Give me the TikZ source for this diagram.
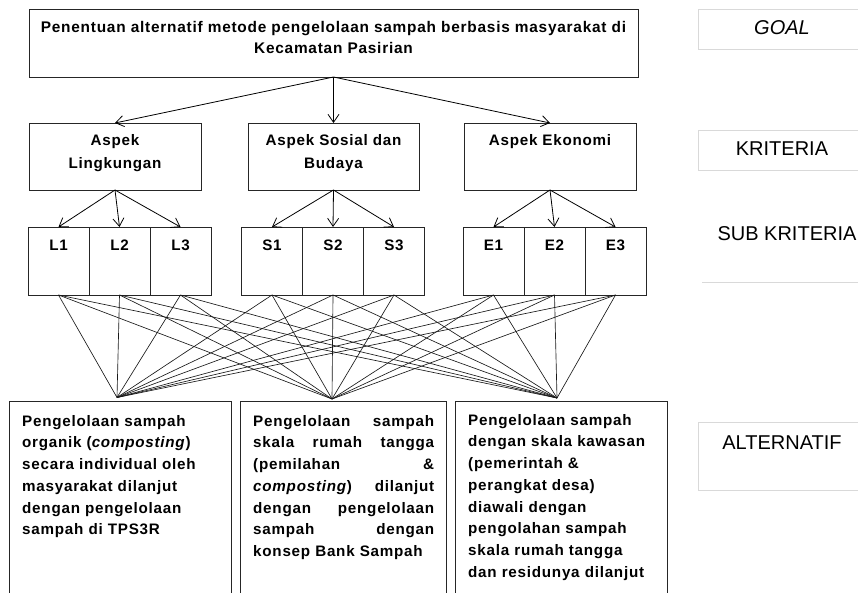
\documentclass[tikz,border=0pt]{standalone}
\usepackage{fontspec}
\setmainfont{Liberation Sans}
\newfontfamily\boxfont{Liberation Sans}[LetterSpace=5]
\usetikzlibrary{positioning,arrows.meta}

\begin{document}
\begin{tikzpicture}[x=1pt,y=-1pt,
    boxstyle/.style={draw=black!85, line width=0.9pt, inner sep=0pt, outer sep=0pt},
    substyle/.style={boxstyle, minimum width=61pt, minimum height=68pt},
    txtstyle/.style={inner sep=0pt, font=\boxfont\bfseries\fontsize{15.2}{21.7}\selectfont},
    kritstyle/.style={inner sep=0pt, align=center, font=\boxfont\bfseries\fontsize{15.2}{23}\selectfont},
    lblstyle/.style={inner sep=0pt, font=\fontsize{20}{24}\selectfont},
    lblline/.style={draw=black!15, line width=0.7pt},
    arrstyle/.style={line width=0.8pt, -{Straight Barb[length=8pt,width=11pt]}},
    linkstyle/.style={line width=0.65pt, black!90}]

  \useasboundingbox (0,0) rectangle (858,593);
  \clip (0,0) rectangle (858,593);

  % goal
  \node[boxstyle, minimum width=609pt, minimum height=68pt] (goal) at (333.5,43) {};
  \node[kritstyle, font=\boxfont\bfseries\fontsize{15.4}{21}\selectfont, below=12pt of goal.north] (goaltxt)
    {Penentuan alternatif metode pengelolaan sampah berbasis masyarakat di\\Kecamatan Pasirian};

  % kriteria
  \node[boxstyle, minimum width=172pt, minimum height=67pt] (kL) at (115,156.5) {};
  \node[boxstyle, minimum width=171pt, minimum height=67pt] (kS) at (333.5,156.5) {};
  \node[boxstyle, minimum width=172pt, minimum height=67pt] (kE) at (550,156.5) {};
  \node[kritstyle, below=11pt of kL.north] (kLtxt) {Aspek\\Lingkungan};
  \node[kritstyle, below=11pt of kS.north] (kStxt) {Aspek Sosial dan\\Budaya};
  \node[kritstyle, below=11pt of kE.north] (kEtxt) {Aspek Ekonomi};

  % sub kriteria
  \node[substyle] (L1) at (58.5,261) {};
  \node[substyle] (S1) at (272,261) {};
  \node[substyle] (E1) at (493.5,261) {};
  \foreach \k in {L,S,E}
    \foreach \i [count=\j from 2] in {1,2}
      \node[substyle, right=0pt of \k\i] (\k\j) {};
  \foreach \k in {L,S,E}
    \foreach \i in {1,2,3}
      \node[txtstyle, below=13pt of \k\i.north] (\k\i txt) {\k\i};

  \foreach \k in {L,S,E}
    \draw[arrstyle] (goal.south) -- (k\k.north);
  \foreach \k in {L,S,E}
    \foreach \i in {1,2,3}
      \draw[arrstyle] (k\k.south) -- (\k\i.north);

  % alternatif
  \node[boxstyle, anchor=north west, minimum width=222pt, minimum height=230pt] (A1) at (9,401) {};
  \node[boxstyle, anchor=north west, minimum width=206pt, minimum height=230pt] (A2) at (240,401) {};
  \node[boxstyle, anchor=north west, minimum width=212pt, minimum height=230pt] (A3) at (455,401) {};
  \coordinate (t1) at (117,397.5);
  \coordinate (t2) at (332,399);
  \coordinate (t3) at (557,398);

  \foreach \k in {L,S,E}
    \foreach \i in {1,2,3}
      \foreach \t in {t1,t2,t3}
        \draw[linkstyle] (\k\i.south) -- (\t);

  \node[txtstyle, text width=205pt, align=left, below right=14pt and 13pt of A1.north west] (A1txt)
    {Pengelolaan sampah\\
     organik (\textit{composting})\\
     secara individual oleh\\
     masyarakat dilanjut\\
     dengan pengelolaan\\
     sampah di TPS3R};
  \node[txtstyle, text width=181pt, align=left, below right=14pt and 13pt of A2.north west] (A2txt)
    {Pengelolaan\hfill sampah\\
     skala\hfill rumah\hfill tangga\\
     (pemilahan\hfill \&\\
     \textit{composting})\hfill dilanjut\\
     dengan\hfill pengelolaan\\
     sampah\hfill dengan\\
     konsep Bank Sampah};
  \node[txtstyle, text width=195pt, align=left, below right=13pt and 13pt of A3.north west] (A3txt)
    {Pengelolaan sampah\\
     dengan skala kawasan\\
     (pemerintah \&\\
     perangkat desa)\\
     diawali dengan\\
     pengolahan sampah\\
     skala rumah tangga\\
     dan residunya dilanjut};

  % level labels
  \draw[lblline] (698,9) rectangle (870,49);
  \draw[lblline] (698,130) rectangle (870,170);
  \draw[lblline] (702,282) -- (870,282);
  \draw[lblline] (698,422) rectangle (870,490);
  \node[lblstyle, font=\fontsize{20}{24}\selectfont\itshape] (lgoal) at (782,27.5) {GOAL};
  \node[lblstyle] (lkrit) at (782,149) {KRITERIA};
  \node[lblstyle] (lsub) at (787,234) {SUB KRITERIA};
  \node[lblstyle] (lalt) at (782,443) {ALTERNATIF};
\end{tikzpicture}
\end{document}
